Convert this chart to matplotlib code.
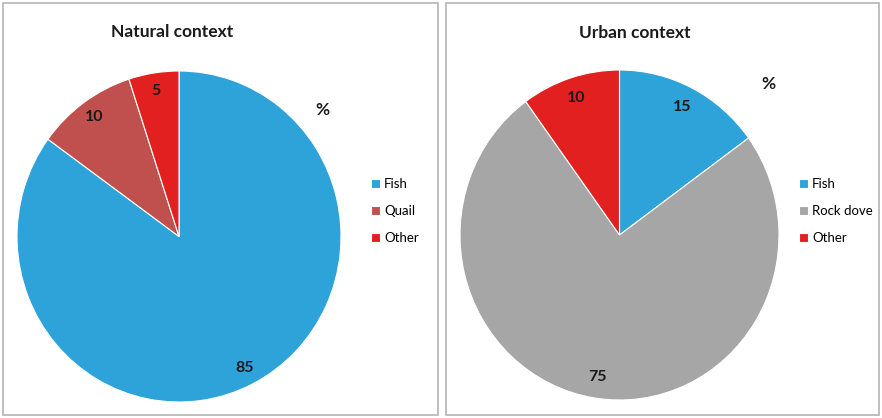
import matplotlib.pyplot as plt
from matplotlib.patches import Rectangle

W, H = 882, 418

natural_labels = ["Fish", "Quail", "Other"]
natural_values = [85, 10, 5]
natural_colors = ["#2EA3DA", "#C0504D", "#E2201F"]

urban_labels = ["Fish", "Rock dove", "Other"]
urban_values = [15, 75, 10]
urban_colors = ["#2EA3DA", "#A6A6A6", "#E2201F"]

plt.rcParams["font.family"] = ["Lato", "DejaVu Sans"]


def px_axes(fig, x0, y0, x1, y1):
    # pixel box (top-left origin) -> figure fraction axes
    return fig.add_axes([x0 / W, 1 - y1 / H, (x1 - x0) / W, (y1 - y0) / H])


def draw_panel(fig, box, pie_box, title, title_xy, pct_xy, labels, values,
               colors, legend_xy, pctdist):
    x0, y0, x1, y1 = box
    fig.add_artist(Rectangle((x0 / W, 1 - y1 / H), (x1 - x0) / W, (y1 - y0) / H,
                             transform=fig.transFigure, fill=False,
                             edgecolor="#B4B4B4", linewidth=1.2))
    ax = px_axes(fig, *pie_box)
    wedges, _, autotexts = ax.pie(
        values, colors=colors, startangle=90, counterclock=False,
        autopct=lambda p: f"{p:.0f}", pctdistance=pctdist,
        wedgeprops=dict(edgecolor="white", linewidth=0.8),
        textprops=dict(fontsize=11.5, fontweight="bold", color="#1a1a1a"))
    ax.set_aspect("auto")
    ax.set_xlim(-1, 1)
    ax.set_ylim(-1, 1)
    fig.text(title_xy[0] / W, 1 - title_xy[1] / H, title, ha="center",
             va="center", fontsize=12.5, fontweight="bold", color="#1a1a1a")
    fig.text(pct_xy[0] / W, 1 - pct_xy[1] / H, "%", ha="center", va="center",
             fontsize=12.5, fontweight="bold", color="#1a1a1a")
    fig.legend(wedges, labels, loc="center left",
               bbox_to_anchor=(legend_xy[0] / W, 1 - legend_xy[1] / H),
               frameon=False, fontsize=9.5, handlelength=0.65,
               handleheight=0.65, handletextpad=0.35, labelspacing=1.15,
               borderpad=0, borderaxespad=0)


fig = plt.figure(figsize=(W / 100, H / 100), dpi=100)
fig.patch.set_facecolor("white")

draw_panel(fig, (3, 3, 438, 415), (17, 71, 341, 402), "Natural context",
           (172, 32), (322, 110), natural_labels, natural_values,
           natural_colors, (371, 211), 0.89)
draw_panel(fig, (446, 3, 879, 415), (460, 70, 779, 400), "Urban context",
           (635, 33), (768, 84), urban_labels, urban_values,
           urban_colors, (799, 211), 0.87)

fig.savefig("out.png", dpi=100, facecolor="white")
